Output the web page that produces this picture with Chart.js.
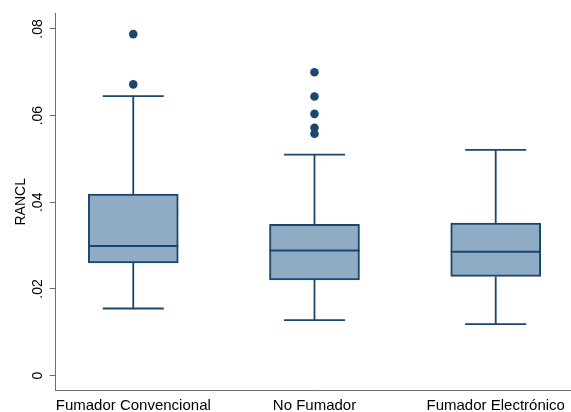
<!DOCTYPE html>
<html>
<head>
<meta charset="utf-8">
<script src="https://cdn.jsdelivr.net/npm/chart.js@4/dist/chart.umd.min.js"></script>
<style>
  html, body { margin: 0; padding: 0; background: #fff; }
  #contenedor { width: 571px; height: 412px; }
</style>
</head>
<body>
<div id="contenedor"><canvas id="grafico"></canvas></div>
<script>
// grupos y estadisticos de cada caja (RANCL)
const grupos = ['Fumador Convencional', 'No Fumador', 'Fumador Electrónico']
const posiciones = [1, 2, 3]
const bigoteInf = [0.0155, 0.0128, 0.0119]
const q1 = [0.0260, 0.0221, 0.0229]
const mediana = [0.0299, 0.0289, 0.0286]
const q3 = [0.0419, 0.0349, 0.0352]
const bigoteSup = [0.0645, 0.0510, 0.0521]
const atipicos = [
    [0.0788, 0.0672],
    [0.0700, 0.0644, 0.0604, 0.0572, 0.0558],
    []
]
const yTicks = [0, 0.02, 0.04, 0.06, 0.08]
const yTickLabels = ['0', '.02', '.04', '.06', '.08']

const azul = '#1a476f'
const relleno = '#90abc4'
const fuente = '"Liberation Sans", Arial, sans-serif'

const puntosAtipicos = []
atipicos.forEach((lista, i) => {
    lista.forEach(v => puntosAtipicos.push({ x: posiciones[i], y: v }))
})

// bigotes y medianas encima de las cajas
const lineasCaja = {
    id: 'lineasCaja',
    afterDatasetsDraw(chart) {
        const { ctx, scales: { x, y } } = chart
        ctx.save()
        ctx.strokeStyle = azul
        posiciones.forEach((p, i) => {
            const cx = x.getPixelForValue(p)
            const medioCaja = 45
            const medioTope = 30.5
            ctx.lineWidth = 1.8
            ctx.beginPath()
            ctx.moveTo(cx, y.getPixelForValue(q3[i]))
            ctx.lineTo(cx, y.getPixelForValue(bigoteSup[i]))
            ctx.moveTo(cx, y.getPixelForValue(q1[i]))
            ctx.lineTo(cx, y.getPixelForValue(bigoteInf[i]))
            ctx.moveTo(cx - medioTope, y.getPixelForValue(bigoteSup[i]))
            ctx.lineTo(cx + medioTope, y.getPixelForValue(bigoteSup[i]))
            ctx.moveTo(cx - medioTope, y.getPixelForValue(bigoteInf[i]))
            ctx.lineTo(cx + medioTope, y.getPixelForValue(bigoteInf[i]))
            ctx.stroke()
            ctx.lineWidth = 2
            ctx.beginPath()
            ctx.moveTo(cx - medioCaja, y.getPixelForValue(mediana[i]))
            ctx.lineTo(cx + medioCaja, y.getPixelForValue(mediana[i]))
            ctx.stroke()
        })
        ctx.restore()
    },
    afterDraw(chart) {
        // etiquetas del eje y giradas, como en Stata
        const { ctx, scales: { y } } = chart
        ctx.save()
        ctx.fillStyle = '#000'
        ctx.font = '14px ' + fuente
        ctx.textAlign = 'center'
        ctx.textBaseline = 'middle'
        yTicks.forEach((v, i) => {
            ctx.save()
            ctx.translate(38, y.getPixelForValue(v))
            ctx.rotate(-Math.PI / 2)
            ctx.fillText(yTickLabels[i], 0, 0)
            ctx.restore()
        })
        ctx.restore()
    }
}

const ctx = document.getElementById('grafico')

new Chart(ctx, {
    data: {
        datasets: [
            {
                type: 'bar',
                data: posiciones.map((p, i) => ({ x: p, y: [q1[i], q3[i]] })),
                backgroundColor: relleno,
                borderColor: azul,
                borderWidth: 2,
                borderSkipped: false,
                barThickness: 90
            },
            {
                type: 'scatter',
                data: puntosAtipicos,
                backgroundColor: azul,
                borderColor: azul,
                pointRadius: 4.3,
                borderWidth: 0
            }
        ]
    },
    options: {
        responsive: true,
        maintainAspectRatio: false,
        animation: false,
        events: [],
        layout: { autoPadding: false, padding: { top: 13, right: 0, left: 0, bottom: 0 } },
        plugins: {
            legend: { display: false },
            tooltip: { enabled: false }
        },
        scales: {
            x: {
                type: 'linear',
                offset: false,
                min: 0.572,
                max: 3.4155,
                afterBuildTicks: scale => {
                    scale.ticks = posiciones.map(v => ({ value: v }))
                },
                afterFit: scale => {
                    scale.height = 21.4
                    scale.paddingLeft = 0
                    scale.paddingRight = 0
                },
                ticks: {
                    autoSkip: false,
                    maxRotation: 0,
                    padding: 6,
                    color: '#000',
                    font: { family: fuente, size: 15 },
                    callback: (v) => grupos[posiciones.indexOf(v)]
                },
                grid: { display: false, drawTicks: false, offset: false },
                border: { display: true, color: '#6e6e6e', width: 1 }
            },
            y: {
                type: 'linear',
                min: -0.00344,
                max: 0.08367,
                afterBuildTicks: scale => {
                    scale.ticks = yTicks.map(v => ({ value: v }))
                },
                afterFit: scale => { scale.width = 55.7 },
                ticks: { display: false },
                grid: {
                    drawOnChartArea: false,
                    drawTicks: true,
                    tickLength: 6,
                    tickColor: '#6e6e6e'
                },
                border: { display: true, color: '#6e6e6e', width: 1 },
                title: {
                    display: true,
                    text: 'RANCL',
                    color: '#000',
                    font: { family: fuente, size: 14 },
                    padding: { top: 13, bottom: 0 }
                }
            }
        }
    },
    plugins: [lineasCaja]
})
</script>
</body>
</html>
